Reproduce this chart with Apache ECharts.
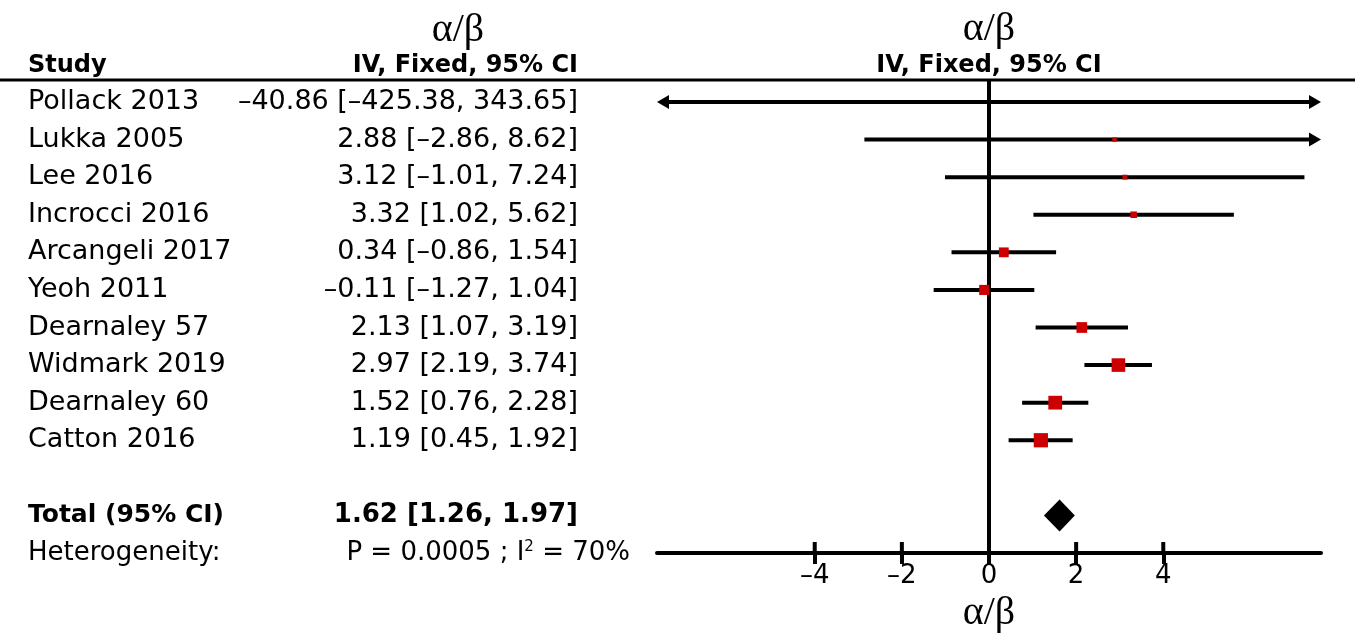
<!DOCTYPE html>
<html>
<head>
<meta charset="utf-8">
<script src="https://cdn.jsdelivr.net/npm/echarts@6/dist/echarts.min.js"></script>
<style>
  html, body { margin: 0; padding: 0; background: #fff; }
  #chart { width: 1355px; height: 643px; }
</style>
</head>
<body>
<div id="chart"></div>
<script>
// study data
const studies = ['Pollack 2013', 'Lukka 2005', 'Lee 2016', 'Incrocci 2016', 'Arcangeli 2017',
  'Yeoh 2011', 'Dearnaley 57', 'Widmark 2019', 'Dearnaley 60', 'Catton 2016'];
const estimates = [-40.86, 2.88, 3.12, 3.32, 0.34, -0.11, 2.13, 2.97, 1.52, 1.19];
const lowerCI = [-425.38, -2.86, -1.01, 1.02, -0.86, -1.27, 1.07, 2.19, 0.76, 0.45];
const upperCI = [343.65, 8.62, 7.24, 5.62, 1.54, 1.04, 3.19, 3.74, 2.28, 1.92];
// inverse-variance weights (%)
const weights = [0, 0.4, 0.7, 2.4, 8.8, 9.5, 11.3, 21.2, 21.9, 23.8];

const totalEstimate = 1.62;
const totalCI = [1.26, 1.97];
const heterogeneityP = '0.0005';
const heterogeneityI2 = 70;

const xTicks = [-4, -2, 0, 2, 4];
const xRange = [-7.62, 7.62];

// row layout
const totalRow = 11;
const hetRow = 12;
const headerRow = -0.96;
const titleRow = -1.92;
const ruleRow = -0.585;
const yMin = -2.714;

const font = 'DejaVu Sans';
const serif = 'Liberation Serif';
const dash = s => s.replace(/-/g, '\u2013');
const fmt = v => dash(v.toFixed(2));
const ciText = (e, l, u) => `${fmt(e)} [${fmt(l)}, ${fmt(u)}]`;

const nameData = studies.map((s, i) => [0, i, s]);
const ciData = studies.map((s, i) => [1, i, ciText(estimates[i], lowerCI[i], upperCI[i])]);
const lineData = studies.map((s, i) => [i, lowerCI[i], upperCI[i]]);
const boxData = studies.map((s, i) => ({
  value: [estimates[i], i],
  symbolSize: weights[i] > 0 ? 3 + 2.3 * Math.sqrt(weights[i]) : 0
}));

const chart = echarts.init(document.getElementById('chart'));

const textLabel = (extra) => Object.assign({
  show: true, color: '#000', fontFamily: font, fontSize: 27, distance: 0,
  formatter: p => p.value[2]
}, extra);

const textSeries = (xi, data, label) => ({
  type: 'scatter', xAxisIndex: xi, yAxisIndex: xi, symbolSize: 0, silent: true,
  itemStyle: { opacity: 1 },
  data, label
});

const option = {
  animation: false,
  backgroundColor: '#fff',
  grid: [
    { left: 28, right: 777, top: 0, height: 553 },
    { left: 657, right: 34, top: 0, height: 553 }
  ],
  xAxis: [
    { gridIndex: 0, type: 'value', min: 0, max: 1, show: false },
    {
      gridIndex: 1, type: 'value', min: xRange[0], max: xRange[1], position: 'bottom',
      splitLine: { show: false },
      axisLine: { show: true, onZero: false, lineStyle: { color: '#000', width: 4 } },
      axisTick: { show: true, inside: false, length: 11, customValues: xTicks, lineStyle: { color: '#000', width: 4 } },
      axisLabel: {
        show: true, customValues: xTicks, margin: 10, color: '#000', fontFamily: font, fontSize: 26,
        formatter: v => dash(String(v))
      },
      name: '\u03b1/\u03b2', nameLocation: 'middle', nameGap: 40,
      nameTextStyle: { fontFamily: serif, fontSize: 40, color: '#000' }
    }
  ],
  yAxis: [
    { gridIndex: 0, type: 'value', min: yMin, max: hetRow, inverse: true, show: false },
    { gridIndex: 1, type: 'value', min: yMin, max: hetRow, inverse: true, show: false }
  ],
  graphic: [
    { type: 'line', shape: { x1: 0, y1: 80, x2: 1355, y2: 80 }, style: { stroke: '#000', lineWidth: 3 } },
    {
      type: 'text', x: 458, y: 30,
      style: { text: '\u03b1/\u03b2', font: `40px "${serif}"`, fill: '#000', align: 'center', verticalAlign: 'middle' }
    }
  ],
  series: [
    // left table: study names
    textSeries(0, nameData, textLabel({ position: 'right' })),
    // left table: estimate and CI
    textSeries(0, ciData, textLabel({ position: 'left' })),
    // headers, total and heterogeneity rows
    textSeries(0, [
      { value: [0, headerRow, 'Study'], label: { position: 'right', fontWeight: 'bold', fontSize: 24 } },
      { value: [1, headerRow, 'IV, Fixed, 95% CI'], label: { position: 'left', fontWeight: 'bold', fontSize: 24 } },
      { value: [0, totalRow, 'Total (95% CI)'], label: { position: 'right', fontWeight: 'bold', fontSize: 25 } },
      { value: [1, totalRow, ciText(totalEstimate, totalCI[0], totalCI[1])], label: { position: 'left', fontWeight: 'bold', fontSize: 26 } },
      { value: [0, hetRow, 'Heterogeneity:'], label: { position: 'right', fontSize: 26 } },
      {
        value: [1, hetRow, `P = ${heterogeneityP} ; I{sup|2} = ${heterogeneityI2}%`],
        label: {
          position: 'left', offset: [52, 0], fontSize: 26,
          rich: { sup: { fontSize: 15, verticalAlign: 'top', padding: [0, 0, 12, 0], fontFamily: font, color: '#000' } }
        }
      }
    ], textLabel({})),
    // right header
    textSeries(1, [
      { value: [0, headerRow, 'IV, Fixed, 95% CI'], label: { fontWeight: 'bold', fontSize: 24 } },
      { value: [0, titleRow, '\u03b1/\u03b2'], label: { fontFamily: serif, fontSize: 40 } }
    ], textLabel({ position: 'inside', align: 'center', verticalAlign: 'middle' })),
    // line of no effect
    {
      type: 'line', xAxisIndex: 1, yAxisIndex: 1, symbol: 'none', silent: true,
      data: [[0, ruleRow], [0, hetRow]],
      lineStyle: { color: '#000', width: 4 }
    },
    // upward half of the axis ticks
    {
      type: 'custom', xAxisIndex: 1, yAxisIndex: 1, silent: true,
      data: xTicks.map(v => [v, hetRow]),
      renderItem: (params, api) => {
        const p = api.coord([api.value(0), api.value(1)]);
        return { type: 'line', shape: { x1: p[0], y1: p[1], x2: p[0], y2: p[1] - 11 }, style: { stroke: '#000', lineWidth: 4 } };
      }
    },
    // confidence interval lines with arrows when clipped
    {
      type: 'custom', xAxisIndex: 1, yAxisIndex: 1, silent: true,
      data: lineData,
      renderItem: (params, api) => {
        const row = api.value(0), lo = api.value(1), hi = api.value(2);
        const a = api.coord([Math.max(lo, xRange[0]), row]);
        const b = api.coord([Math.min(hi, xRange[1]), row]);
        const children = [{
          type: 'line',
          shape: { x1: a[0] + (lo < xRange[0] ? 6 : 0), y1: a[1], x2: b[0] - (hi > xRange[1] ? 6 : 0), y2: b[1] },
          style: { stroke: '#000', lineWidth: 4 }
        }];
        if (lo < xRange[0]) {
          children.push({ type: 'polygon', shape: { points: [[a[0], a[1]], [a[0] + 12, a[1] - 7], [a[0] + 12, a[1] + 7]] }, style: { fill: '#000' } });
        }
        if (hi > xRange[1]) {
          children.push({ type: 'polygon', shape: { points: [[b[0], b[1]], [b[0] - 12, b[1] - 7], [b[0] - 12, b[1] + 7]] }, style: { fill: '#000' } });
        }
        return { type: 'group', children };
      }
    },
    // study boxes
    {
      type: 'scatter', xAxisIndex: 1, yAxisIndex: 1, symbol: 'rect', silent: true,
      data: boxData,
      itemStyle: { color: '#cc0000', opacity: 1 },
      z: 5
    },
    // pooled diamond
    {
      type: 'custom', xAxisIndex: 1, yAxisIndex: 1, silent: true,
      data: [[totalRow, totalEstimate, totalCI[0], totalCI[1]]],
      renderItem: (params, api) => {
        const row = api.value(0);
        const c = api.coord([api.value(1), row]);
        const l = api.coord([api.value(2), row]);
        const r = api.coord([api.value(3), row]);
        const h = 16;
        return {
          type: 'polygon',
          shape: { points: [[l[0], c[1]], [c[0], c[1] - h], [r[0], c[1]], [c[0], c[1] + h]] },
          style: { fill: '#000' }
        };
      }
    }
  ]
};

chart.setOption(option);
window.addEventListener('resize', () => chart.resize());
</script>
</body>
</html>
